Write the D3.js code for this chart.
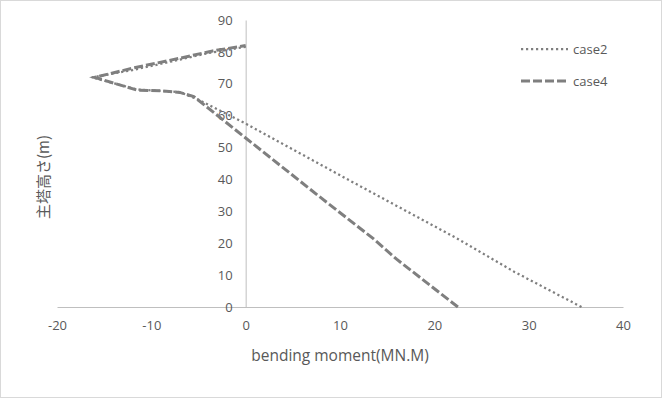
<!DOCTYPE html>
<html>
<head>
<meta charset="utf-8">
<script src="https://cdn.jsdelivr.net/npm/d3@7"></script>
<style>
  html, body { margin: 0; padding: 0; background: #fff; }
  svg { display: block; }
  text { font-family: "Open Sans", "Noto Sans", sans-serif; fill: #595959; }
</style>
</head>
<body>
<svg id="chart" width="662" height="398"></svg>
<script>
// ---- data ----
const xTicks = [-20, -10, 0, 10, 20, 30, 40];
const yTicks = [0, 10, 20, 30, 40, 50, 60, 70, 80, 90];
const seriesNames = ["case2", "case4"];
// bending moment (MN.M) and height (m), ordered from the base of the tower upward
const case2Moment = [35.6, 28.5, 22.4, 11.0, 0.0, -5.0, -7.0, -11.5, -16.3, -12.0, -8.0, -4.0, 0.0];
const case2Height = [0.0, 11.0, 21.5, 39.7, 57.5, 65.0, 67.4, 68.2, 72.0, 74.3, 76.9, 79.6, 81.6];
const case4Moment = [22.5, 16.0, 13.5, 8.0, 0.0, -5.5, -7.0, -9.0, -11.5, -16.0, -12.0, -7.0, -3.5, 0.0];
const case4Height = [0.0, 15.0, 21.5, 34.2, 53.0, 66.0, 67.3, 67.8, 68.0, 72.0, 74.9, 78.0, 80.3, 82.0];

// ---- layout ----
const svg = d3.select("#chart");
const W = 662, H = 398;
const plot = { left: 57, right: 623, top: 20, bottom: 307 };
const lineColor = "#7f7f7f";
const textColor = "#595959";

svg.append("rect")
  .attr("x", 0.5).attr("y", 0.5)
  .attr("width", W - 1).attr("height", H - 1)
  .attr("fill", "#fff").attr("stroke", "#d9d9d9");

const x = d3.scaleLinear().domain([-20, 40]).range([plot.left, plot.right]);
const y = d3.scaleLinear().domain([0, 90]).range([plot.bottom, plot.top]);

const fmt = d => String(d);

// x axis line at y=0
const xAxis = d3.axisBottom(x).tickValues(xTicks).tickSize(0).tickPadding(14).tickFormat(fmt);
const gx = svg.append("g").attr("transform", `translate(0,${y(0)})`).call(xAxis);
gx.select(".domain").attr("stroke", "#bfbfbf").attr("stroke-width", 1);
gx.selectAll("text").attr("font-size", 13).attr("fill", textColor)
  .attr("font-family", "'Open Sans', 'Noto Sans', sans-serif");

// y axis line at x=0
const yAxis = d3.axisLeft(y).tickValues(yTicks).tickSize(0).tickPadding(13).tickFormat(fmt);
const gy = svg.append("g").attr("transform", `translate(${x(0)},0)`).call(yAxis);
gy.select(".domain").attr("stroke", "#bfbfbf").attr("stroke-width", 1);
gy.selectAll("text").attr("font-size", 13).attr("fill", textColor)
  .attr("font-family", "'Open Sans', 'Noto Sans', sans-serif");

// ---- series ----
function pts(xs, ys) { return xs.map((v, i) => [v, ys[i]]); }
const line = d3.line().x(d => x(d[0])).y(d => y(d[1]));

svg.append("path")
  .datum(pts(case2Moment, case2Height))
  .attr("d", line)
  .attr("fill", "none")
  .attr("stroke", lineColor)
  .attr("stroke-width", 2.25)
  .attr("stroke-dasharray", "2.2,2.8");

svg.append("path")
  .datum(pts(case4Moment, case4Height))
  .attr("d", line)
  .attr("fill", "none")
  .attr("stroke", lineColor)
  .attr("stroke-width", 3)
  .attr("stroke-dasharray", "9,3");

// ---- axis titles ----
svg.append("text")
  .attr("x", 340).attr("y", 361)
  .attr("text-anchor", "middle")
  .attr("font-size", 15.5)
  .attr("fill", textColor)
  .text("bending moment(MN.M)");

svg.append("text")
  .attr("transform", "translate(49,177) rotate(-90)")
  .attr("text-anchor", "middle")
  .attr("font-size", 15)
  .attr("fill", textColor)
  .style("fill", textColor)
  .style("font-family", "'Noto Sans CJK JP', sans-serif")
  .text("主塔高さ(m)");

// ---- legend ----
const legend = svg.append("g");
const legendY = [49, 81];
const legendDash = ["2.2,2.8", "9,3"];
const legendWidth = [2.25, 3];
seriesNames.forEach((name, i) => {
  legend.append("line")
    .attr("x1", 521).attr("x2", 568)
    .attr("y1", legendY[i]).attr("y2", legendY[i])
    .attr("stroke", lineColor)
    .attr("stroke-width", legendWidth[i])
    .attr("stroke-dasharray", legendDash[i]);
  legend.append("text")
    .attr("x", 573).attr("y", legendY[i])
    .attr("dy", "0.35em")
    .attr("font-size", 13)
    .attr("fill", textColor)
    .text(name);
});
</script>
</body>
</html>
